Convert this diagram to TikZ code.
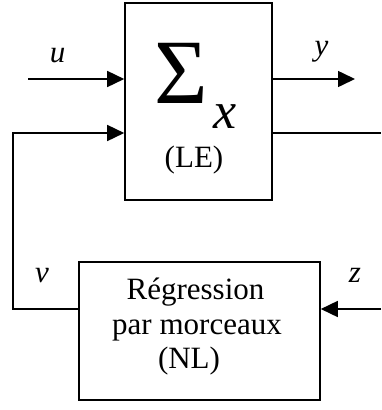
\documentclass[tikz,border=0pt]{standalone}
\usepackage{fontspec}
\setmainfont{Liberation Serif}
\usetikzlibrary{arrows.meta}
\tikzset{
  blk/.style={draw, line width=1.6pt, inner sep=0pt},
  wire/.style={line width=1.6pt},
  arr/.style={wire, -{Triangle[length=17pt,width=16pt]}},
  lbl/.style={inner sep=0pt, anchor=base, font=\fontsize{31}{35}\selectfont}
}
\begin{document}
\begin{tikzpicture}[x=1pt,y=-1pt]
\useasboundingbox (0,0) rectangle (381,410);
% blocks
\node[blk, minimum width=147pt, minimum height=197pt] (sys) at (198.5,101.5) {};
\node[blk, minimum width=241pt, minimum height=138pt] (nl) at (199.5,331) {};
% texts in the upper block
\node[inner sep=0pt, anchor=base, font=\fontsize{92}{92}\selectfont] (sig) at (181.5,103) {Σ};
\node[inner sep=0pt, anchor=base, font=\fontsize{52}{52}\selectfont\itshape] (sub) at (225,128) {x};
\node[lbl] (le) at (194,167) {(LE)};
% texts in the lower block
\node[lbl] (t1) at (195.5,299) {Régression};
\node[lbl] (t2) at (197,334) {par morceaux};
\node[lbl] (t3) at (189,368) {(NL)};
% signal labels
\node[lbl, font=\fontsize{31}{35}\selectfont\itshape] (lu) at (57.5,62) {u};
\node[lbl, font=\fontsize{31}{35}\selectfont\itshape] (ly) at (321.5,55) {y};
\node[lbl, font=\fontsize{31}{35}\selectfont\itshape] (lv) at (42,282) {v};
\node[lbl, font=\fontsize{31}{35}\selectfont\itshape] (lz) at (355,282) {z};
% coordinates
\coordinate (uin) at (28,79);
\coordinate (yout) at (355,79);
\coordinate (fbin) at (13,133);
\coordinate (fbout) at (381,133);
\coordinate (fbl) at (13,309);
\coordinate (zin) at (381,309);
% connectors
\draw[arr] (uin) -- (sys.west |- uin);
\draw[arr] (sys.east |- yout) -- (yout);
\draw[wire] (sys.east |- fbout) -- (fbout);
\draw[arr] (nl.west |- fbl) -- (fbl) -- (fbin) -- (sys.west |- fbin);
\draw[arr] (zin) -- (nl.east |- zin);
\end{tikzpicture}
\end{document}
